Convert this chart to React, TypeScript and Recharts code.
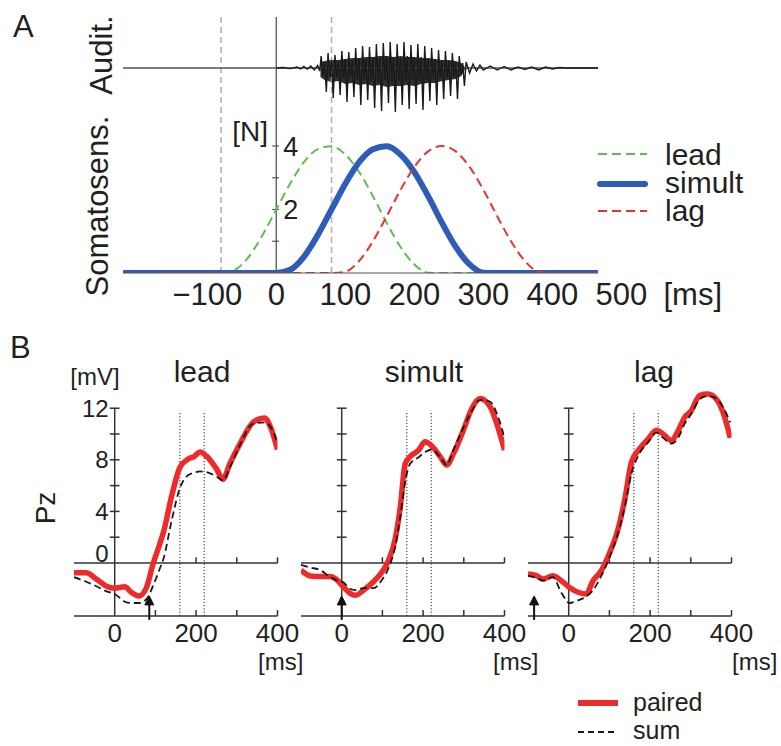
import React from 'react';
import { ComposedChart, LineChart, Line, Area, XAxis, YAxis, ReferenceLine, ReferenceDot } from 'recharts';

const FONT = '"Liberation Sans", Arial, Helvetica, sans-serif';
const INK = '#231f20';
const AXIS = '#555555';
const GREEN = '#5cbf4f';
const BLUE = '#2d5db6';
const RED_A = '#e8332f';
const RED_B = '#ee2a2a';
const DARK = '#1a1a1a';

// ---------- Panel A: somatosensory force profiles ----------
const forceTimes = [-220, -200, -180, -160, -140, -120, -100, -80, -60, -40, -20, 0, 20, 40, 60, 80, 100, 120, 140, 160, 180, 200, 220, 240, 260, 280, 300, 320, 340, 360, 380, 400, 420, 440, 460, 466];
const leadForce = [null, null, null, null, null, null, null, 0, 0.1, 0.51, 1.19, 2.0, 2.81, 3.49, 3.9, 3.99, 3.73, 3.18, 2.42, 1.58, 0.82, 0.27, 0.01, 0, 0, 0, 0, 0, 0, 0, 0, 0, 0, 0, 0, 0];
const simultForce = [0, 0, 0, 0, 0, 0, 0, 0, 0, 0, 0, 0, 0.1, 0.51, 1.19, 2.0, 2.81, 3.49, 3.9, 3.99, 3.73, 3.18, 2.42, 1.58, 0.82, 0.27, 0.01, 0, 0, 0, 0, 0, 0, 0, 0, 0];
const lagForce = [null, null, null, 0, 0, 0, 0, 0, 0, 0, 0, 0, 0, 0, 0, 0, 0.04, 0.38, 1.0, 1.79, 2.62, 3.34, 3.83, 4.0, 3.83, 3.34, 2.62, 1.79, 1.0, 0.38, 0.04, 0, 0, 0, 0, 0];
const forceTicks = [-100, 0, 100, 200, 300, 400, 500];
const forceMinorTicks = [1, 2, 3, 4];
const forceLabels = [2, 4];
const cueLines = [-80, 80];

// auditory waveform samples (ms, arbitrary amplitude)
const audioTimes = [
  0, 10, 20, 30, 35, 40, 45, 50, 55, 60, 63,
  65, 67.5, 70, 72.5, 75, 77.5, 80, 82.5, 85, 87.5, 90, 92.5, 95, 97.5, 100, 102.5,
  105, 107.5, 110, 112.5, 115, 117.5, 120, 122.5, 125, 127.5, 130, 132.5, 135, 137.5, 140, 142.5,
  145, 147.5, 150, 152.5, 155, 157.5, 160, 162.5, 165, 167.5, 170, 172.5, 175, 177.5, 180, 182.5,
  185, 187.5, 190, 192.5, 195, 197.5, 200, 202.5, 205, 207.5, 210, 212.5, 215, 217.5, 220, 222.5,
  225, 227.5, 230, 232.5, 235, 237.5, 240, 242.5, 245, 247.5, 250, 252.5, 255, 257.5, 260, 262.5,
  265, 267.5, 270, 272.5,
  275, 280, 285, 290, 295, 300, 310, 320, 330, 340, 350, 360, 370, 380, 390, 400, 410, 420, 466,
];
const audioAmp = [
  0, 0.5, -0.6, 1, -1, 1.5, -1.2, 2, -2, 2.5, -3,
  12, -8, 6, -24, 15, -9, 8, -30, 13, -10, 7, -27, 17, -11, 9, -34,
  16, -10, 8, -29, 20, -12, 10, -37, 22, -12, 9, -32, 21, -13, 11, -40,
  24, -14, 10, -43, 25, -12, 12, -35, 26, -14, 11, -44, 24, -13, 10, -37,
  26, -13, 12, -41, 23, -12, 10, -36, 24, -13, 11, -42, 22, -12, 9, -33,
  20, -11, 9, -37, 18, -10, 8, -31, 17, -10, 7, -28, 15, -9, 6, -31,
  12, -7, 5, -18,
  6, -5, 4, -3, 3, -2, 2, -2, 1.5, -2, 1, -1.5, 1, -2, 1, -1, 0.5, 0, 0,
];
// dense dark core of the waveform
const audioCoreTimes = [64, 70, 80, 90, 100, 110, 120, 130, 140, 150, 160, 170, 180, 190, 200, 210, 220, 230, 240, 250, 260, 268, 273];
const audioCoreLow = [-9, -12, -14, -13, -16, -15, -17, -16, -18, -17, -19, -18, -18, -17, -18, -16, -15, -15, -13, -12, -11, -8, -2];
const audioCoreHigh = [6, 7, 8, 8, 9, 10, 10, 11, 11, 12, 12, 11, 12, 11, 11, 10, 10, 9, 8, 8, 7, 5, 1];

// ---------- Panel B: Pz ERPs ----------
const leadTimes = [-100, -70, -45, -20, 0, 25, 40, 60, 78, 94, 110, 120, 140, 160, 180, 195, 210, 225, 250, 266, 283, 307, 340, 368, 382, 400];
const leadPaired = [-0.75, -0.75, -1.25, -1.8, -1.95, -1.85, -2.25, -2.55, -1.9, -0.1, 1.4, 2.4, 5.2, 7.4, 8.05, 8.25, 8.6, 8.3, 7.3, 6.5, 7.7, 9.2, 10.9, 11.25, 10.6, 8.8];
const leadSum = [-1.1, -1.45, -1.8, -2.2, -2.4, -3.0, -3.1, -3.1, -2.8, -1.8, -0.5, 0.35, 3.3, 5.8, 6.8, 7.0, 7.1, 7.05, 6.7, 6.4, 7.4, 9.1, 10.8, 10.9, 10.6, 9.3];

const simultTimes = [-100, -77, -53, -28, -12, 4, 21, 33, 54, 78, 99, 115, 131, 144, 156, 168, 189, 205, 222, 242, 258, 275, 299, 320, 340, 365, 381, 400];
const simultPaired = [-0.55, -1.0, -1.05, -1.05, -1.3, -1.85, -2.35, -2.5, -2.1, -1.45, -0.7, 0.2, 1.8, 4.35, 7.7, 8.25, 8.75, 9.4, 9.05, 8.25, 7.6, 8.5, 10.3, 12.0, 12.75, 12.1, 10.8, 8.75];
const simultSum = [-0.15, -0.35, -0.55, -1.1, -1.35, -1.5, -2.0, -2.1, -1.95, -1.95, -1.3, -0.4, 1.2, 3.6, 6.3, 7.7, 8.2, 8.6, 8.8, 8.2, 7.6, 8.8, 10.5, 11.8, 12.65, 12.5, 11.6, 9.7];

const lagTimes = [-100, -79, -63, -39, -18, 2, 23, 43, 60, 80, 101, 121, 138, 154, 174, 195, 215, 232, 252, 269, 285, 301, 322, 342, 363, 379, 397];
const lagPaired = [-0.85, -0.98, -1.24, -0.98, -1.37, -1.9, -2.27, -2.4, -1.37, -0.6, 0.83, 2.6, 4.96, 7.8, 8.84, 9.6, 10.3, 10.0, 9.5, 10.25, 11.3, 11.8, 13.0, 13.1, 12.7, 11.7, 9.7];
const lagSum = [-1.0, -1.15, -1.37, -1.1, -2.3, -3.1, -2.9, -2.6, -2.1, -1.0, 0.5, 2.3, 4.4, 6.9, 8.5, 9.35, 10.1, 9.7, 9.25, 9.7, 10.8, 11.55, 12.7, 12.95, 12.75, 12.1, 10.9];

const pzTicks = [2, 4, 6, 8, 10, 12];
const pzLabels = [12, 8, 4, 0];
const msTicks = [0, 100, 200, 300, 400];
const msLabels = [0, 200, 400];
const windowLines = [160, 220];
const onsets = [85, 0, -85];

const Y_MIN = -4.1;
const Y_MAX = 14;

const ATick = (props: any) => {
  const { x, y, payload } = props;
  const v = payload.value as number;
  const label = v < 0 ? '\u2212' + Math.abs(v) : String(v);
  return (
    <g>
      <text x={x} y={y} dy="0.71em" textAnchor="middle" fontSize={31} fill={INK} fontFamily={FONT}>{label}</text>
      {v === 500 && (
        <text x={x + 42} y={y} dy="0.71em" textAnchor="start" fontSize={31} fill={INK} fontFamily={FONT}>[ms]</text>
      )}
    </g>
  );
};

function PanelA() {
  const table = forceTimes.map((t, i) => ({ t, lead: leadForce[i], simult: simultForce[i], lag: lagForce[i] }));
  const audio = audioTimes.map((t, i) => ({ t, amp: audioAmp[i] }));
  const core = audioCoreTimes.map((t, i) => ({ t, core: [audioCoreLow[i], audioCoreHigh[i]] }));
  return (
    <ComposedChart width={781} height={330} data={table} margin={{ top: 17, right: 183, bottom: 7, left: 123 }}>
      <XAxis type="number" dataKey="t" domain={[-222, 466]} allowDataOverflow ticks={forceTicks} interval={0}
        tickLine={false} tickSize={0} tickMargin={10} height={50}
        axisLine={{ stroke: AXIS, strokeWidth: 1.2 }} tick={<ATick />} />
      <YAxis yAxisId="f" hide type="number" domain={[0, 8.063]} allowDataOverflow />
      <YAxis yAxisId="a" hide type="number" domain={[-205, 51]} allowDataOverflow />
      {cueLines.map((c) => (
        <ReferenceLine key={'cue' + c} x={c} yAxisId="f" stroke="#b0b0b0" strokeWidth={1.5} strokeDasharray="6 4" />
      ))}
      <ReferenceLine x={0} yAxisId="f" stroke={AXIS} strokeWidth={1.3} />
      <ReferenceLine y={0} yAxisId="a" stroke={AXIS} strokeWidth={1.3} />
      {forceMinorTicks.map((v) => (
        <ReferenceLine key={'ft' + v} yAxisId="f" segment={[{ x: -6, y: v }, { x: 4, y: v }]} stroke={AXIS} strokeWidth={1.2} />
      ))}
      {forceLabels.map((v) => (
        <ReferenceDot key={'fl' + v} x={0} y={v} yAxisId="f" r={0} fill="none" stroke="none" ifOverflow="visible"
          label={{ value: String(v), position: 'right', offset: 7, fontSize: 27, fill: INK, fontFamily: FONT }} />
      ))}
      <Area data={core} dataKey="core" yAxisId="a" type="linear" stroke="none" fill={DARK} fillOpacity={0.9} isAnimationActive={false} />
      <Line data={audio} dataKey="amp" yAxisId="a" type="linear" stroke={DARK} strokeWidth={1.4} dot={false} isAnimationActive={false} />
      <Line dataKey="lead" yAxisId="f" type="monotone" stroke={GREEN} strokeWidth={2} strokeDasharray="9 5" dot={false} isAnimationActive={false} />
      <Line dataKey="simult" yAxisId="f" type="monotone" stroke={BLUE} strokeWidth={6} strokeLinecap="round" dot={false} isAnimationActive={false} />
      <Line dataKey="lag" yAxisId="f" type="monotone" stroke={RED_A} strokeWidth={2} strokeDasharray="9 5" dot={false} isAnimationActive={false} />
    </ComposedChart>
  );
}

const arrowShape = (p: any) => {
  const { cx, cy } = p;
  return (
    <g>
      <line x1={cx} y1={cy + 4} x2={cx} y2={cy - 14} stroke="#111" strokeWidth={2} />
      <path d={`M${cx - 4.5},${cy - 11} L${cx},${cy - 20} L${cx + 4.5},${cy - 11} Z`} fill="#111" stroke="#111" strokeWidth={1} />
    </g>
  );
};

function ErpPanel({ left, times, paired, sum, onset, showLabels }: any) {
  const table = times.map((t: number, i: number) => ({ t, paired: paired[i], sum: sum[i] }));
  return (
    <div style={{ position: 'absolute', left, top: 370 }}>
      <LineChart width={260} height={300} data={table} margin={{ top: 12.4, right: 26.5, bottom: 14.1, left: 30 }}>
        <XAxis type="number" dataKey="t" domain={[-100, 400]} allowDataOverflow ticks={msTicks} interval={0}
          tickLine={false} tickSize={0} tickMargin={8} height={40}
          tickFormatter={(v: number) => (msLabels.includes(v) ? String(v) : '')}
          axisLine={{ stroke: '#333', strokeWidth: 1.5 }}
          tick={{ fontSize: 26, fill: INK, fontFamily: FONT }} />
        <YAxis hide type="number" domain={[Y_MIN, Y_MAX]} allowDataOverflow />
        <ReferenceLine y={0} stroke="#333" strokeWidth={1.5} />
        <ReferenceLine segment={[{ x: 0, y: Y_MIN }, { x: 0, y: 12 }]} stroke="#333" strokeWidth={1.5} />
        {pzTicks.map((v) => (
          <ReferenceLine key={'yt' + v} segment={[{ x: -12, y: v }, { x: 12, y: v }]} stroke="#333" strokeWidth={1.5} />
        ))}
        {msTicks.slice(1).map((v) => (
          <ReferenceLine key={'zt' + v} segment={[{ x: v, y: 0 }, { x: v, y: 0.45 }]} stroke="#333" strokeWidth={1.5} />
        ))}
        {msTicks.slice(1).map((v) => (
          <ReferenceLine key={'bt' + v} segment={[{ x: v, y: Y_MIN }, { x: v, y: Y_MIN + 0.45 }]} stroke="#333" strokeWidth={1.5} />
        ))}
        {windowLines.map((v) => (
          <ReferenceLine key={'w' + v} segment={[{ x: v, y: Y_MIN }, { x: v, y: 11.8 }]} stroke="#444" strokeWidth={1.2} strokeDasharray="1.2 2" />
        ))}
        {showLabels && pzLabels.map((v) => (
          <ReferenceDot key={'yl' + v} x={0} y={v === 0 ? 0.7 : v} r={0} fill="none" stroke="none" ifOverflow="visible"
            label={{ value: String(v), position: 'left', offset: 6, fontSize: 24, fill: INK, fontFamily: FONT }} />
        ))}
        <Line dataKey="paired" type="monotone" stroke={RED_B} strokeWidth={5.5} dot={false} isAnimationActive={false} />
        <Line dataKey="sum" type="monotone" stroke={DARK} strokeWidth={1.8} strokeDasharray="7 4" dot={false} isAnimationActive={false} />
        <ReferenceDot x={onset} y={Y_MIN} r={0} ifOverflow="visible" shape={arrowShape} />
      </LineChart>
    </div>
  );
}

export default function App() {
  const txt = { fill: INK, fontFamily: FONT } as any;
  return (
    <div style={{ position: 'absolute', left: 0, top: 0, width: 781, height: 746, background: '#fff' }}>
      <div style={{ position: 'absolute', left: 0, top: 0 }}>
        <PanelA />
      </div>
      <ErpPanel left={44} times={leadTimes} paired={leadPaired} sum={leadSum} onset={onsets[0]} showLabels />
      <ErpPanel left={271} times={simultTimes} paired={simultPaired} sum={simultSum} onset={onsets[1]} />
      <ErpPanel left={498} times={lagTimes} paired={lagPaired} sum={lagSum} onset={onsets[2]} />
      <svg width={781} height={746} style={{ position: 'absolute', left: 0, top: 0, pointerEvents: 'none' }}>
        <text x={13} y={37} fontSize={31} {...txt}>A</text>
        <text transform="translate(112,55) rotate(-90)" textAnchor="middle" fontSize={31} {...txt}>Audit.</text>
        <text transform="translate(108,206) rotate(-90)" textAnchor="middle" fontSize={31} {...txt}>Somatosens.</text>
        <text x={268} y={141} textAnchor="end" fontSize={28} {...txt}>[N]</text>
        <line x1={598} y1={154} x2={647} y2={154} stroke={GREEN} strokeWidth={2} strokeDasharray="9 5" />
        <line x1={600} y1={184} x2={645} y2={184} stroke={BLUE} strokeWidth={6} strokeLinecap="round" />
        <line x1={598} y1={211} x2={647} y2={211} stroke={RED_A} strokeWidth={2} strokeDasharray="9 5" />
        <text x={665} y={165} fontSize={30} {...txt}>lead</text>
        <text x={665} y={193} fontSize={30} {...txt}>simult</text>
        <text x={665} y={221} fontSize={30} {...txt}>lag</text>

        <text x={10} y={358} fontSize={31} {...txt}>B</text>
        <text x={95} y={385} textAnchor="middle" fontSize={24} {...txt}>[mV]</text>
        <text transform="translate(55,508) rotate(-90)" textAnchor="middle" fontSize={28} {...txt}>Pz</text>
        <text x={202} y={382} textAnchor="middle" fontSize={30} {...txt}>lead</text>
        <text x={424} y={382} textAnchor="middle" fontSize={30} {...txt}>simult</text>
        <text x={654} y={382} textAnchor="middle" fontSize={30} {...txt}>lag</text>
        <text x={258} y={670} fontSize={24} {...txt}>[ms]</text>
        <text x={493} y={670} fontSize={24} {...txt}>[ms]</text>
        <text x={732} y={670} fontSize={24} {...txt}>[ms]</text>

        <line x1={578} y1={703} x2={618} y2={703} stroke={RED_B} strokeWidth={6} />
        <line x1={578} y1={732} x2={618} y2={732} stroke={DARK} strokeWidth={2} strokeDasharray="6 4" />
        <text x={633} y={711} fontSize={25} {...txt}>paired</text>
        <text x={633} y={739} fontSize={25} {...txt}>sum</text>
      </svg>
    </div>
  );
}
